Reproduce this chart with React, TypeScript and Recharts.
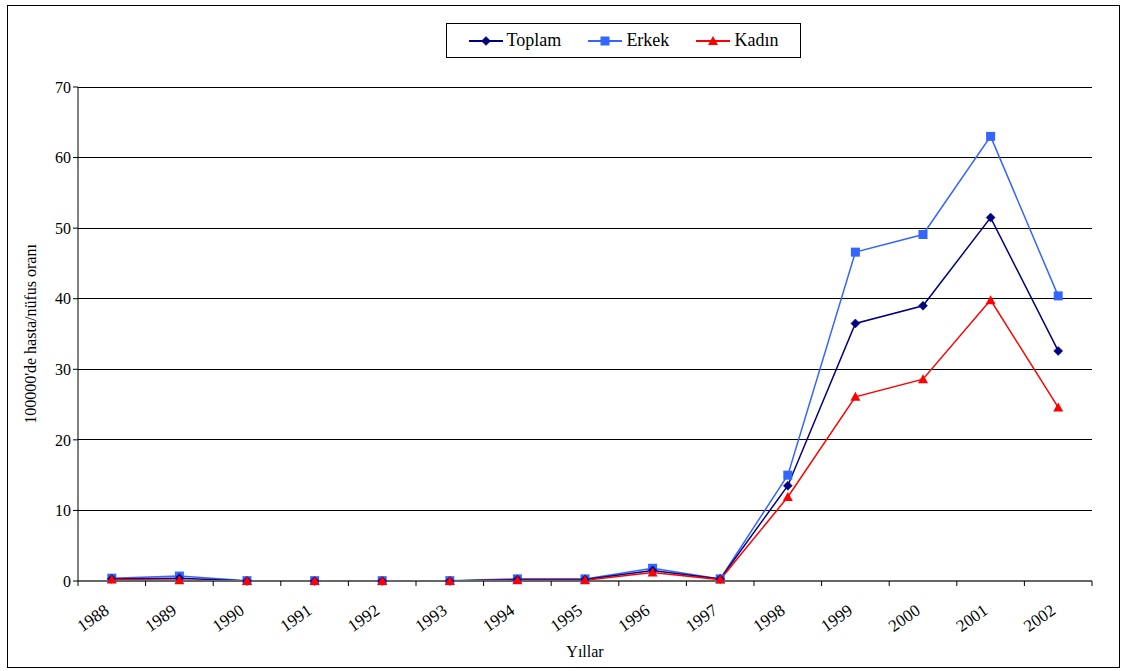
import React from "react";
import {
  LineChart,
  Line,
  XAxis,
  YAxis,
  CartesianGrid,
} from "recharts";

const years = [
  "1988", "1989", "1990", "1991", "1992", "1993", "1994", "1995",
  "1996", "1997", "1998", "1999", "2000", "2001", "2002",
];
const toplam = [0.3, 0.4, 0, 0, 0, 0, 0.2, 0.2, 1.5, 0.3, 13.5, 36.5, 39.0, 51.5, 32.6];
const erkek = [0.4, 0.7, 0.05, 0.05, 0.05, 0.05, 0.3, 0.3, 1.8, 0.3, 15.0, 46.6, 49.1, 63.0, 40.4];
const kadin = [0.2, 0.1, 0, 0, 0, 0, 0.1, 0.1, 1.2, 0.2, 11.9, 26.1, 28.6, 39.8, 24.6];
const yTicks = [0, 10, 20, 30, 40, 50, 60, 70];

const data = years.map((y, i) => ({
  year: y,
  Toplam: toplam[i],
  Erkek: erkek[i],
  Kadın: kadin[i],
}));

const W = 1128;
const H = 671;
const M = { top: 87, right: 36, bottom: 0, left: 0 };
const Y_AXIS_W = 78;
const X_AXIS_H = 90;
const PLOT_W = W - M.left - M.right - Y_AXIS_W;
const HALF_BAND = PLOT_W / years.length / 2;

const FONT = "'Liberation Serif', 'DejaVu Serif', serif";
const NAVY = "#000080";
const BLUE = "#3366FF";
const RED = "#FF0000";

const Diamond = (props: any) => {
  const { cx, cy, fill } = props;
  if (cx == null || cy == null) return null;
  const r = 4.5;
  return (
    <path
      d={`M${cx},${cy - r}L${cx + r},${cy}L${cx},${cy + r}L${cx - r},${cy}Z`}
      fill={fill}
      stroke={fill}
      strokeWidth={0.5}
    />
  );
};

const Square = (props: any) => {
  const { cx, cy, fill } = props;
  if (cx == null || cy == null) return null;
  const r = 4.5;
  return <rect x={cx - r} y={cy - r} width={2 * r} height={2 * r} fill={fill} />;
};

const Triangle = (props: any) => {
  const { cx, cy, fill } = props;
  if (cx == null || cy == null) return null;
  const r = 5;
  return (
    <path
      d={`M${cx},${cy - r}L${cx + r},${cy + r * 0.8}L${cx - r},${cy + r * 0.8}Z`}
      fill={fill}
    />
  );
};

const XTick = (props: any) => {
  const { x, y, payload, index } = props;
  const last = index === years.length - 1;
  return (
    <g>
      <line x1={x - HALF_BAND} y1={y - 8} x2={x - HALF_BAND} y2={y - 3} stroke="#000" />
      {last && (
        <line x1={x + HALF_BAND} y1={y - 8} x2={x + HALF_BAND} y2={y - 3} stroke="#000" />
      )}
      <text
        transform={`translate(${x - 5},${y + 19}) rotate(-35)`}
        textAnchor="end"
        dy="0.35em"
        fontFamily={FONT}
        fontSize={17}
        fill="#000"
      >
        {payload.value}
      </text>
    </g>
  );
};

const legendItems = [
  { name: "Toplam", color: NAVY, Mark: Diamond },
  { name: "Erkek", color: BLUE, Mark: Square },
  { name: "Kadın", color: RED, Mark: Triangle },
];

const LegendBox = () => (
  <div
    style={{
      position: "absolute",
      left: 446,
      top: 23,
      border: "1px solid #000",
      width: 355,
      height: 35,
      display: "flex",
      alignItems: "center",
      justifyContent: "space-around",
      boxSizing: "border-box",
      padding: "0 8px",
      background: "#fff",
    }}
  >
    {legendItems.map(({ name, color, Mark }) => (
      <div key={name} style={{ display: "flex", alignItems: "center" }}>
        <svg width={34} height={14}>
          <line x1={0} y1={7} x2={34} y2={7} stroke={color} strokeWidth={2} />
          <Mark cx={17} cy={7} fill={color} />
        </svg>
        <span style={{ fontFamily: FONT, fontSize: 18, marginLeft: 4 }}>{name}</span>
      </div>
    ))}
  </div>
);

export default function App() {
  return (
    <div style={{ position: "absolute", left: 0, top: 0, width: W, height: H, background: "#fff" }}>
      <div
        style={{
          position: "absolute",
          left: 7,
          top: 5,
          width: 1113,
          height: 663,
          border: "1px solid #000",
          boxSizing: "border-box",
        }}
      />
      <div style={{ position: "absolute", left: 0, top: 0 }}>
        <LineChart width={W} height={H} data={data} margin={M}>
          <CartesianGrid
            yAxisId="l"
            vertical={false}
            horizontalValues={yTicks}
            stroke="#000"
            strokeWidth={1}
            shapeRendering="crispEdges"
          />
          <XAxis
            dataKey="year"
            interval={0}
            height={X_AXIS_H}
            padding={{ left: HALF_BAND, right: HALF_BAND }}
            tick={<XTick />}
            tickLine={false}
            axisLine={{ stroke: "#666", strokeWidth: 2 }}
            label={{
              value: "Yıllar",
              position: "insideBottom",
              offset: 14,
              style: { fontFamily: FONT, fontSize: 16, fill: "#000" },
            }}
          />
          <YAxis
            yAxisId="l"
            width={Y_AXIS_W}
            domain={[0, 70]}
            ticks={yTicks}
            interval={0}
            tickLine={{ stroke: "#000" }}
            tickSize={5}
            axisLine={{ stroke: "#000" }}
            tick={{ fontFamily: FONT, fontSize: 16, fill: "#000" }}
            label={{
              value: "100000'de hasta/nüfus oranı",
              angle: -90,
              position: "insideLeft",
              offset: 30,
              style: { fontFamily: FONT, fontSize: 16, fill: "#000", textAnchor: "middle" },
            }}
          />
          <YAxis
            yAxisId="r"
            orientation="right"
            width={0}
            domain={[0, 70]}
            tick={false}
            tickLine={false}
            axisLine={{ stroke: "#000" }}
          />
          <Line
            yAxisId="l"
            dataKey="Erkek"
            stroke={BLUE}
            strokeWidth={1.5}
            dot={(p: any) => <Square key={p.index} {...p} fill={BLUE} />}
            isAnimationActive={false}
          />
          <Line
            yAxisId="l"
            dataKey="Toplam"
            stroke={NAVY}
            strokeWidth={1.5}
            dot={(p: any) => <Diamond key={p.index} {...p} fill={NAVY} />}
            isAnimationActive={false}
          />
          <Line
            yAxisId="l"
            dataKey="Kadın"
            stroke={RED}
            strokeWidth={1.5}
            dot={(p: any) => <Triangle key={p.index} {...p} fill={RED} />}
            isAnimationActive={false}
          />
        </LineChart>
      </div>
      <LegendBox />
    </div>
  );
}
